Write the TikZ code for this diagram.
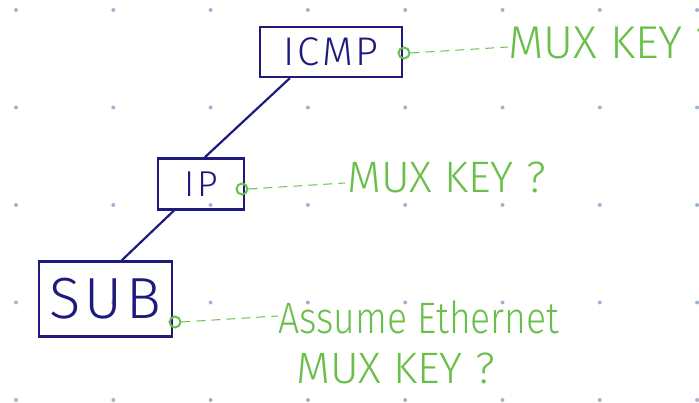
\documentclass[tikz,border=0pt]{standalone}
\usepackage{fontspec}
\newfontfamily\boxfont[LetterSpace=7]{Fira Sans Light}
\newfontfamily\hand{Fira Sans Light}
\newfontfamily\handn[FakeStretch=0.85]{Fira Sans Light}
\definecolor{navy}{HTML}{1E1B7D}
\definecolor{handgreen}{HTML}{6ABF4B}
\definecolor{dotblue}{HTML}{9FB4D4}
\tikzset{
  protobox/.style={draw=navy, line width=2.4pt, text=navy, inner sep=0pt, font=\boxfont},
  link/.style={draw=navy, line width=2.2pt},
  pin/.style={circle, draw=handgreen, line width=2pt, minimum size=11pt, inner sep=0pt},
  note/.style={text=handgreen, anchor=base west, inner sep=0pt},
  leader/.style={draw=handgreen, line width=1pt, dash pattern=on 9pt off 6pt},
  griddot/.style={fill=dotblue}
}
\begin{document}
\begin{tikzpicture}[x=1pt,y=-1pt]
\useasboundingbox (0,0) rectangle (699,403);
\clip (0,0) rectangle (699,403);
% background dot grid
\foreach \i in {0,...,7} {
  \foreach \j in {0,...,4} {
    \fill[griddot] ({16+97.3*\i},{10+97.5*\j}) circle (2pt);
  }
}
% boxes
\node[protobox, minimum width=142pt, minimum height=50pt, font=\boxfont\fontsize{40}{40}\selectfont] (icmp) at (331,52) {ICMP\hspace{10pt}};
\node[protobox, minimum width=86pt, minimum height=51pt, font=\boxfont\fontsize{36}{36}\selectfont] (ip) at (201,184) {IP};
\node[protobox, minimum width=133pt, minimum height=75pt, font=\boxfont\fontsize{58}{58}\selectfont] (sub) at (105.5,299) {SUB};
% links
\draw[link] ([xshift=31pt]icmp.south west) -- ([xshift=48pt]ip.north west);
\draw[link] ([xshift=17pt]ip.south west) -- ([xshift=84pt]sub.north west);
% pins
\node[pin] (p1) at (404,53) {};
\node[pin] (p2) at (242,189) {};
\node[pin] (p3) at (175,322) {};
% notes
\node[note, font=\hand\fontsize{46}{46}\selectfont] (n1) at (508,59) {MUX KEY ?};
\node[note, font=\hand\fontsize{44}{44}\selectfont] (n2) at (347,193) {MUX KEY ?};
\node[note, font=\handn\fontsize{44}{44}\selectfont] (n3) at (278,334) {Assume Ethernet};
\node[note, font=\hand\fontsize{44}{44}\selectfont] (n4) at (296,384) {MUX KEY ?};
% leaders
\coordinate (e1) at (508,47);
\coordinate (e2) at (345,183);
\coordinate (e3) at (278,316);
\draw[leader] (p1.east) -- (e1);
\draw[leader] (p2.east) -- (e2);
\draw[leader] (p3.east) -- (e3);
\end{tikzpicture}
\end{document}
